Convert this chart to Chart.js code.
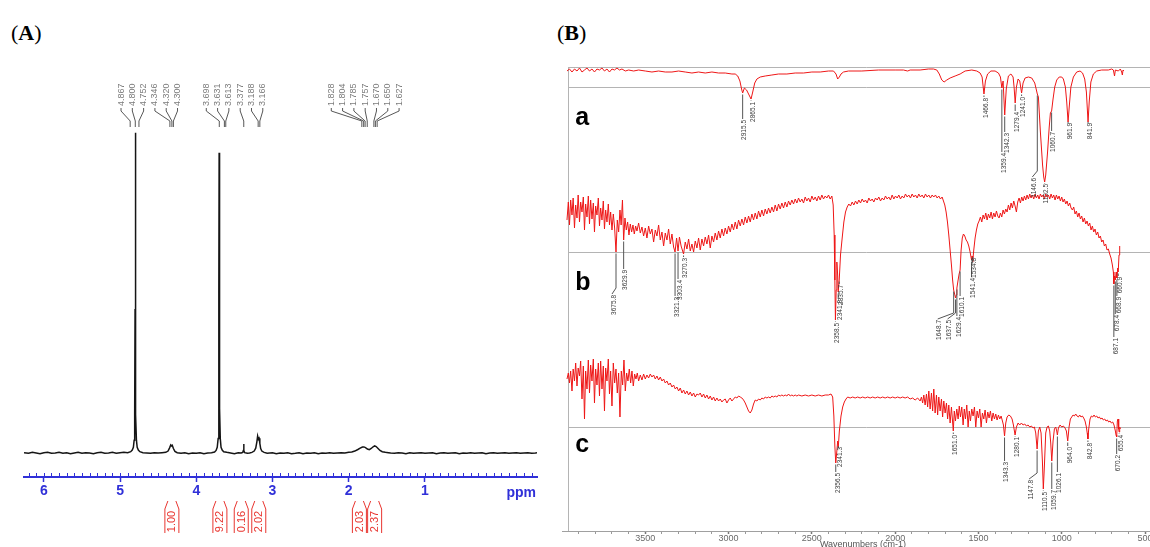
<!DOCTYPE html>
<html>
<head>
<meta charset="utf-8">
<script src="https://cdn.jsdelivr.net/npm/chart.js@4"></script>
<style>
html,body{margin:0;padding:0;background:#fff;overflow:hidden;width:1150px;height:547px;}
#wrap{position:relative;width:1150px;height:547px;overflow:hidden;}
canvas{position:absolute;}
.plabel{position:absolute;font-family:'Liberation Serif','Times New Roman',serif;font-size:22px;color:#000;line-height:25px;}
</style>
</head>
<body>
<div id="wrap">
  <div class="plabel" style="left:11px;top:20px;">(<b>A</b>)</div>
  <div class="plabel" style="left:557px;top:20px;">(<b>B</b>)</div>
  <canvas id="nmr" width="550" height="547" style="left:0;top:0;"></canvas>
  <canvas id="ir" width="608" height="515" style="left:556px;top:40px;"></canvas>
</div>
<script>
// ---------------- (A) 1H NMR data ----------------
const nmrTickValues = [6, 5, 4, 3, 2, 1];
const nmrSpectrum = [
[6.26,0.1],[6.2,-0.1],[6.15,0.2],[6.1,0],[6.05,-0.2],[6.0,0.1],[5.95,0.2],[5.9,-0.1],[5.85,0],[5.8,0.2],[5.75,-0.1],[5.7,0.1],[5.65,-0.2],[5.6,0],[5.55,0.2],[5.5,-0.1],[5.45,0.1],[5.4,0],[5.35,-0.2],[5.3,0.1],[5.25,0.2],[5.2,-0.1],[5.15,0],[5.1,0.2],[5.05,-0.1],[5.0,0.1],[4.95,0.2],[4.9,0.1],
[4.86,0.4],[4.84,0.9],[4.825,1.8],[4.815,4],[4.808,12],[4.803,45],[4.800,100],[4.797,45],[4.792,12],[4.785,4],[4.775,1.8],[4.76,0.9],[4.74,0.4],[4.7,0.1],[4.65,0],[4.6,-0.1],[4.55,0.1],[4.5,0],[4.45,0.1],
[4.4,0.2],[4.37,0.6],[4.35,1.6],[4.335,2.5],[4.325,2.2],[4.315,2.4],[4.30,1.4],[4.28,0.5],[4.25,0.1],[4.2,-0.1],[4.15,0.1],[4.1,-0.2],[4.05,0],[4.0,-0.1],[3.95,0.1],[3.9,-0.2],[3.85,0],[3.8,0.1],
[3.76,0.3],[3.74,0.8],[3.725,1.8],[3.713,4.5],[3.706,14],[3.702,50],[3.700,93.8],[3.697,45],[3.692,14],[3.685,4.5],[3.675,1.8],[3.66,0.9],[3.64,0.4],[3.6,0.2],[3.55,0],[3.5,-0.2],[3.45,0.1],
[3.41,0],[3.39,0.2],[3.382,0.8],[3.378,2.8],[3.374,0.8],[3.365,0.1],[3.33,-0.1],[3.3,0],
[3.27,0.2],[3.24,0.6],[3.22,1.5],[3.205,3.5],[3.195,5.3],[3.185,4.3],[3.176,4.6],[3.166,3],[3.155,1.4],[3.14,0.6],[3.11,0.2],[3.07,-0.1],
[3.0,0.1],[2.95,-0.2],[2.9,0],[2.85,-0.1],[2.8,0.1],[2.75,-0.2],[2.7,-0.1],[2.65,0.1],[2.6,-0.2],[2.55,0],[2.5,-0.1],[2.45,0.1],[2.4,-0.2],[2.35,0],[2.3,-0.1],[2.25,0.1],[2.2,-0.1],[2.15,0],[2.1,0.1],[2.05,0],
[2.0,0.2],[1.96,0.3],[1.92,0.6],[1.88,1.1],[1.85,1.5],[1.82,1.85],[1.80,1.9],[1.78,1.7],[1.755,1.25],[1.73,1.05],[1.705,1.4],[1.68,1.95],[1.66,2.2],[1.64,2.0],[1.615,1.4],[1.59,0.8],[1.56,0.4],[1.52,0.2],[1.48,0.1],
[1.45,0],[1.4,-0.1],[1.35,0.1],[1.3,0],[1.25,-0.2],[1.2,0.1],[1.15,-0.1],[1.1,0],[1.05,0.1],[1.0,-0.1],[0.95,0],[0.9,0.1],[0.85,-0.2],[0.8,0],[0.75,0.1],[0.7,-0.1],[0.65,0],[0.6,0.1],[0.55,-0.2],[0.5,0],[0.45,-0.1],[0.4,0.1],[0.35,-0.1],[0.3,0],[0.25,0.1],[0.2,-0.2],[0.15,0],[0.1,0.1],[0.05,-0.1],[0.0,0],[-0.05,0.1],[-0.1,-0.1],[-0.15,0],[-0.2,0.1],[-0.25,-0.1],[-0.3,0],[-0.35,0.1],[-0.4,-0.1],[-0.45,0],[-0.47,0.1]
];
const nmrPeakGroups = [
  [4.867, 4.800, 4.752, 4.346, 4.320, 4.300],
  [3.698, 3.631, 3.613, 3.377, 3.188, 3.166],
  [1.828, 1.804, 1.785, 1.757, 1.670, 1.650, 1.627]
];
const nmrIntegrals = [[4.32,'1.00'],[3.69,'9.22'],[3.41,'0.16'],[3.18,'2.02'],[1.86,'2.03'],[1.66,'2.37']];

// ---------------- (B) FT-IR data ----------------
const irTickValues = [500, 1000, 1500, 2000, 2500, 3000, 3500];
const irTraceA = [
[3970,116],[3955,118],[3940,115],[3925,118],[3910,116],[3895,119],[3880,115],[3865,117],[3850,119],[3835,116],[3820,118],[3805,115],[3790,118],[3775,117],[3760,119],[3745,116],[3730,118],[3715,115],[3700,118],[3685,117],[3670,119],[3655,117],[3640,118],[3620,116],[3600,117],[3570,116],[3540,117],[3500,116],[3460,115],[3420,116],[3380,115],[3340,115],[3300,116],[3260,115],[3220,114],[3180,115],[3140,114],[3100,115],[3060,114],[3020,114],[2980,113],[2960,113],[2945,111],[2932,106],[2922,98],[2915.5,94],[2905,99],[2892,97],[2880,93],[2865.1,88],[2855,95],[2843,104],[2830,108],[2810,110],[2780,111],[2740,112],[2700,113],[2650,113],[2600,114],[2550,114],[2500,115],[2450,115],[2400,116],[2370,116],[2355,113],[2345,108],[2335,110],[2325,113],[2310,115],[2280,116],[2200,116],[2100,117],[2000,117],[1950,117],[1925,116],[1910,117],[1850,117],[1800,118],[1770,118],[1750,117],[1735,113],[1720,107],[1706,105],[1690,107],[1670,109],[1640,111],[1610,113],[1580,116],[1540,117],[1510,116],[1490,114],[1478,110],[1466.8,93],[1458,106],[1445,113],[1425,116],[1400,116],[1380,114],[1368,110],[1359.4,99],[1352,106],[1342.3,72],[1333,98],[1320,111],[1305,113],[1292,110],[1286,100],[1279.4,84],[1272,100],[1262,108],[1252,106],[1241.0,94],[1232,104],[1220,109],[1200,110],[1180,109],[1162,104],[1152,97],[1146.6,93],[1140,90],[1128,55],[1115,22],[1108,10],[1102.5,5],[1096,12],[1085,35],[1075,60],[1068,74],[1060.7,76],[1052,88],[1042,100],[1030,107],[1015,110],[1000,110],[990,108],[978,100],[970,85],[961.9,65],[955,80],[945,100],[930,110],[910,115],[890,116],[875,114],[862,108],[852,95],[841.9,65],[835,85],[825,105],[810,113],[790,116],[760,117],[720,117],[700,118],[690,117],[683,111],[678,117],[660,116],[648,118],[640,115],[636,112],[632,117],[626,116]
];
const irTraceB = [
[3970,130],[3962,148],[3955,125],[3948,150],[3940,135],[3933,152],[3925,122],[3918,145],[3910,132],[3903,155],[3895,128],[3888,148],[3880,138],[3872,153],[3865,120],[3858,146],[3850,133],[3842,154],[3835,126],[3828,150],[3820,131],[3812,147],[3805,118],[3798,144],[3790,135],[3782,152],[3775,124],[3768,142],[3760,130],[3752,149],[3745,121],[3738,140],[3730,128],[3722,146],[3715,125],[3708,138],[3700,120],[3692,136],[3684,122],[3675.8,98],[3668,130],[3660,118],[3652,140],[3645,125],[3637,150],[3629.9,110],[3622,132],[3614,120],[3606,128],[3598,115],[3590,126],[3582,118],[3574,125],[3566,116],[3558,124],[3550,119],[3540,127],[3530,117],[3520,123],[3510,114],[3500,122],[3490,112],[3480,124],[3470,116],[3460,121],[3450,108],[3440,120],[3430,114],[3420,125],[3410,110],[3400,118],[3390,104],[3380,117],[3370,110],[3360,121],[3350,106],[3340,116],[3330,103],[3321.3,98],[3312,112],[3303.4,99],[3295,113],[3285,104],[3270.3,96],[3260,108],[3250,101],[3240,111],[3230,99],[3220,106],[3210,98],[3200,109],[3190,102],[3180,112],[3170,100],[3160,111],[3150,104],[3140,113],[3130,106],[3120,115],[3110,102],[3100,114],[3090,108],[3080,117],[3070,110],[3060,119],[3050,112],[3040,121],[3030,114],[3020,122],[3010,116],[3000,124],[2990,118],[2980,126],[2970,120],[2960,128],[2950,121],[2940,130],[2930,124],[2920,131],[2910,125],[2900,133],[2890,127],[2880,134],[2870,128],[2860,136],[2850,130],[2840,137],[2830,131],[2820,139],[2810,133],[2800,140],[2790,134],[2780,141],[2770,136],[2760,142],[2750,137],[2740,143],[2730,138],[2720,145],[2710,139],[2700,146],[2690,141],[2680,147],[2670,142],[2660,148],[2650,143],[2640,149],[2630,145],[2620,150],[2610,146],[2600,151],[2590,147],[2580,152],[2570,148],[2560,151],[2550,147],[2540,153],[2530,149],[2520,152],[2510,148],[2500,154],[2490,150],[2480,153],[2470,149],[2460,154],[2450,150],[2440,155],[2430,151],[2420,154],[2410,152],[2400,155],[2390,151],[2380,154],[2372,145],[2366,115],[2362,70],[2358.5,30],[2354,60],[2350,88],[2345,75],[2341.8,58],[2335.7,70],[2328,95],[2318,112],[2308,128],[2298,138],[2288,143],[2278,146],[2268,144],[2258,148],[2248,145],[2238,149],[2228,146],[2218,150],[2208,147],[2198,151],[2188,148],[2178,150],[2168,147],[2158,152],[2148,149],[2138,151],[2128,148],[2118,152],[2108,150],[2098,153],[2088,149],[2078,152],[2068,150],[2058,154],[2048,151],[2038,153],[2028,150],[2018,155],[2008,151],[1998,154],[1988,152],[1978,155],[1968,151],[1958,154],[1948,152],[1938,156],[1928,153],[1918,155],[1908,152],[1898,156],[1888,153],[1878,155],[1868,152],[1858,156],[1848,153],[1838,155],[1828,152],[1818,156],[1808,153],[1798,155],[1788,152],[1778,155],[1768,153],[1758,155],[1748,152],[1738,154],[1728,151],[1718,153],[1710,149],[1702,145],[1694,138],[1686,128],[1678,115],[1670,100],[1662,85],[1655,70],[1648.7,60],[1643,56],[1637.5,52],[1633,55],[1629.4,62],[1622,70],[1616,76],[1610.1,80],[1604,100],[1597,112],[1590,116],[1582,114],[1574,110],[1566,108],[1558,104],[1550,98],[1541.4,90],[1538,94],[1534.8,88],[1528,100],[1520,112],[1512,120],[1504,126],[1496,129],[1488,133],[1480,128],[1472,135],[1464,131],[1456,137],[1448,130],[1440,136],[1432,132],[1424,138],[1416,131],[1408,137],[1400,133],[1392,139],[1384,134],[1376,132],[1368,137],[1360,133],[1352,140],[1344,136],[1336,141],[1328,138],[1320,145],[1312,140],[1304,147],[1296,142],[1288,149],[1280,144],[1272,138],[1264,148],[1256,152],[1248,147],[1240,153],[1232,149],[1224,154],[1216,150],[1208,155],[1200,151],[1192,156],[1184,152],[1176,155],[1168,151],[1160,156],[1152,152],[1144,155],[1136,151],[1128,156],[1120,153],[1112,155],[1104,151],[1096,156],[1088,153],[1080,155],[1072,151],[1064,156],[1056,152],[1048,155],[1040,150],[1032,155],[1024,151],[1016,154],[1008,149],[1000,153],[992,148],[984,151],[976,146],[968,149],[960,144],[952,147],[944,142],[936,140],[928,143],[920,136],[912,139],[904,133],[896,137],[888,131],[880,134],[872,128],[864,132],[856,126],[848,129],[840,124],[832,127],[824,120],[816,124],[808,118],[800,121],[792,115],[784,118],[776,112],[768,114],[760,108],[752,110],[744,104],[736,106],[728,100],[720,101],[712,96],[704,92],[696,85],[690,78],[687.1,66],[683,74],[678.4,70],[673,78],[668.9,72],[664,82],[660.9,78],[656,95],[652,104]
];
const irTraceC = [
[3970,152],[3962,158],[3955,148],[3948,160],[3940,140],[3933,162],[3925,150],[3918,168],[3910,145],[3903,163],[3895,155],[3888,170],[3880,132],[3872,165],[3865,112],[3858,160],[3850,142],[3842,171],[3835,138],[3828,166],[3820,150],[3812,172],[3805,128],[3798,162],[3790,146],[3782,168],[3775,135],[3768,170],[3760,142],[3752,165],[3745,120],[3738,163],[3730,150],[3722,172],[3715,137],[3708,160],[3700,125],[3692,168],[3684,148],[3676,162],[3668,138],[3660,158],[3652,114],[3644,160],[3636,146],[3628,171],[3620,140],[3612,158],[3604,150],[3596,162],[3588,148],[3580,160],[3572,145],[3564,157],[3556,152],[3548,158],[3540,150],[3530,156],[3520,151],[3510,157],[3500,152],[3490,156],[3480,153],[3470,157],[3460,154],[3450,156],[3440,152],[3430,155],[3420,151],[3410,154],[3400,150],[3390,152],[3380,148],[3370,150],[3360,146],[3350,148],[3340,144],[3330,146],[3320,142],[3310,144],[3300,140],[3290,143],[3280,138],[3270,141],[3260,137],[3250,140],[3240,136],[3230,139],[3220,135],[3210,138],[3200,134],[3190,137],[3180,136],[3170,138],[3160,134],[3150,137],[3140,133],[3130,136],[3120,132],[3110,135],[3100,131],[3090,134],[3080,130],[3070,133],[3060,130],[3050,132],[3040,129],[3030,131],[3020,132],[3010,128],[3000,131],[2990,133],[2980,130],[2970,132],[2960,134],[2950,133],[2940,135],[2930,134],[2920,133],[2910,131],[2900,128],[2890,124],[2880,120],[2870,118],[2860,121],[2850,127],[2840,131],[2830,130],[2820,132],[2810,131],[2800,133],[2790,132],[2780,134],[2770,133],[2760,134],[2750,133],[2740,135],[2730,134],[2720,135],[2710,134],[2700,136],[2690,135],[2680,136],[2670,135],[2660,136],[2650,135],[2640,137],[2630,135],[2620,136],[2610,135],[2600,136],[2590,135],[2580,136],[2560,135],[2540,136],[2520,135],[2500,136],[2480,135],[2460,136],[2440,135],[2420,136],[2400,136],[2385,137],[2375,134],[2368,115],[2362,85],[2356.5,68],[2350,80],[2345,90],[2341.3,84],[2335,100],[2325,115],[2315,124],[2305,129],[2295,132],[2285,134],[2270,133],[2255,134],[2240,133],[2225,134],[2210,133],[2195,134],[2180,133],[2165,134],[2150,133],[2135,134],[2120,133],[2105,134],[2090,133],[2075,134],[2060,133],[2045,134],[2030,133],[2015,134],[2000,133],[1985,134],[1970,133],[1955,134],[1940,133],[1925,134],[1910,132],[1895,133],[1880,131],[1865,133],[1850,130],[1842,134],[1835,128],[1828,136],[1820,126],[1812,137],[1805,124],[1798,140],[1790,122],[1782,138],[1775,120],[1768,142],[1760,118],[1752,136],[1745,116],[1738,134],[1730,120],[1722,132],[1715,114],[1708,130],[1700,118],[1692,128],[1685,112],[1678,126],[1670,108],[1662,124],[1651.0,100],[1645,120],[1638,110],[1630,122],[1622,112],[1615,125],[1608,114],[1600,124],[1592,106],[1585,122],[1578,112],[1570,126],[1562,104],[1555,120],[1548,110],[1540,122],[1532,115],[1524,124],[1516,104],[1508,120],[1500,113],[1492,122],[1484,104],[1476,118],[1468,112],[1460,121],[1452,108],[1444,119],[1436,113],[1428,120],[1420,110],[1412,118],[1404,112],[1396,117],[1388,111],[1380,116],[1372,112],[1364,115],[1356,110],[1350,106],[1343.3,95],[1336,108],[1328,114],[1318,116],[1308,115],[1298,112],[1290,106],[1280.1,96],[1272,104],[1262,108],[1252,106],[1242,108],[1232,106],[1222,107],[1212,105],[1202,106],[1192,104],[1182,105],[1172,103],[1164,104],[1156,98],[1147.8,82],[1140,100],[1132,104],[1124,98],[1116,70],[1110.5,42],[1104,65],[1096,98],[1088,104],[1080,105],[1072,100],[1066,88],[1059.7,70],[1052,90],[1044,102],[1036,104],[1030,100],[1026.1,96],[1020,103],[1010,106],[1000,104],[990,105],[980,103],[972,100],[964.0,90],[956,104],[948,112],[940,114],[932,116],[924,115],[916,117],[908,115],[900,114],[892,116],[884,114],[876,115],[868,113],[860,110],[852,104],[847,98],[842.8,92],[838,102],[830,112],[822,115],[814,114],[806,116],[798,114],[790,115],[782,113],[774,114],[766,112],[758,113],[750,111],[742,112],[734,110],[726,111],[718,109],[710,110],[702,108],[694,109],[686,106],[678,100],[674,96],[670.2,94],[666,110],[662,112],[658,102],[655.4,99],[652,104],[648,102]
];
// peak annotations: [wavenumber, value where label text begins, leader shift]
const irPeaksA = [[2915.5,67],[2865.1,85],[1466.8,89],[1359.4,34],[1342.3,54],[1279.4,75],[1241.0,90],[1146.6,9,-5],[1102.5,3],[1060.7,55],[961.9,64],[841.9,64]];
const irPeaksB = [[3675.8,55,-4],[3629.9,80],[3321.3,53],[3303.4,70],[3270.3,92],[2358.5,27],[2341.8,50],[2335.7,65],[1648.7,30,-16],[1637.5,30,-8],[1629.4,33,0],[1610.1,53],[1541.4,72],[1534.8,92],[687.1,12],[678.4,35],[668.9,53],[660.9,73]];
const irPeaksC = [[2356.5,58],[2341.3,84],[1651.0,96],[1343.3,69],[1280.1,94],[1147.8,51,-8],[1110.5,39],[1059.7,41],[1026.1,58],[964.0,84],[842.8,88],[670.2,76],[655.4,96]];
const irTraceNames = ['a', 'b', 'c'];
const irReferenceLevels = [100, 98, 104];

const toXY = arr => arr.map(p => ({x: p[0], y: p[1]}));
const BLUE = '#3030d8';
const RED_INT = '#e8352f';

// ---------------- NMR chart ----------------
const nmrPlugin = {
  id: 'nmrDecor',
  afterDraw(chart) {
    const ctx = chart.ctx, xs = chart.scales.x, area = chart.chartArea;
    ctx.save();
    ctx.strokeStyle = BLUE; ctx.lineWidth = 1;
    for (let i = -4; i <= 62; i++) {
      const v = i / 10;
      const px = Math.round(xs.getPixelForValue(v)) + 0.5;
      ctx.beginPath(); ctx.moveTo(px, area.bottom - 4); ctx.lineTo(px, area.bottom); ctx.stroke();
    }
    ctx.fillStyle = BLUE; ctx.font = "bold 14px 'Liberation Sans', Arial, sans-serif";
    ctx.textAlign = 'right'; ctx.textBaseline = 'middle';
    ctx.fillText('ppm', area.right - 1, 493);
    ctx.font = "9px 'Liberation Sans', Arial, sans-serif";
    nmrPeakGroups.forEach(g => {
      const px = g.map(v => xs.getPixelForValue(v));
      const c = px.reduce((a, b) => a + b, 0) / px.length - 4;
      g.forEach((v, i) => {
        const lx = c + (i - (g.length - 1) / 2) * 11.3;
        ctx.save();
        ctx.translate(lx, 106); ctx.rotate(-Math.PI / 2);
        ctx.textAlign = 'left'; ctx.textBaseline = 'middle'; ctx.fillStyle = '#7c7c7c';
        ctx.fillText(v.toFixed(3), 0, 0);
        ctx.restore();
        ctx.strokeStyle = '#444'; ctx.lineWidth = 0.9;
        ctx.beginPath(); ctx.moveTo(lx, 108); ctx.lineTo(lx, 111); ctx.lineTo(px[i], 121); ctx.lineTo(px[i], 127); ctx.stroke();
      });
    });
    ctx.strokeStyle = RED_INT; ctx.fillStyle = RED_INT; ctx.lineWidth = 1;
    ctx.font = "11px 'Liberation Sans', Arial, sans-serif";
    nmrIntegrals.forEach(([v, t]) => {
      const cx = xs.getPixelForValue(v);
      ctx.beginPath();
      ctx.moveTo(cx - 4, 501); ctx.lineTo(cx - 7, 509); ctx.lineTo(cx - 7, 533);
      ctx.moveTo(cx + 4, 501); ctx.lineTo(cx + 7, 509); ctx.lineTo(cx + 7, 533);
      ctx.stroke();
      ctx.save();
      ctx.translate(cx + 0.5, 521.5); ctx.rotate(-Math.PI / 2);
      ctx.textAlign = 'center'; ctx.textBaseline = 'middle';
      ctx.fillText(t, 0, 0);
      ctx.restore();
    });
    ctx.restore();
  }
};

new Chart(document.getElementById('nmr'), {
  type: 'line',
  data: { datasets: [{ data: toXY(nmrSpectrum), borderColor: '#151515', borderWidth: 1.5, pointRadius: 0, tension: 0 }] },
  options: {
    responsive: false, animation: false, events: [],
    layout: { padding: { left: 24, right: 13, top: 0, bottom: 0 } },
    plugins: { legend: { display: false }, tooltip: { enabled: false } },
    scales: {
      x: {
        type: 'linear', reverse: true, min: -0.47, max: 6.26,
        afterBuildTicks: s => { s.ticks = nmrTickValues.map(v => ({ value: v })); },
        afterFit: s => { s.height = 70; s.paddingLeft = 0; s.paddingRight = 0; },
        ticks: { color: BLUE, font: { family: "'Liberation Sans', Arial, sans-serif", size: 14, weight: 'bold' }, padding: 1, autoSkip: false, maxRotation: 0 },
        grid: { drawOnChartArea: false, color: BLUE, tickLength: 5, tickWidth: 1.5 },
        border: { color: BLUE, width: 2 }
      },
      y: { display: false, min: -7.5, max: 141.5 }
    }
  },
  plugins: [nmrPlugin]
});

// ---------------- IR chart ----------------
const irTraces = [irTraceA, irTraceB, irTraceC];
const irPeaks = [irPeaksA, irPeaksB, irPeaksC];
const irAxes = ['ya', 'yb', 'yc'];

const irPlugin = {
  id: 'irDecor',
  beforeDatasetsDraw(chart) {
    const ctx = chart.ctx, xs = chart.scales.x, area = chart.chartArea;
    const left = Math.round(xs.getPixelForValue(3965)) + 0.5;
    ctx.save();
    ctx.strokeStyle = '#b4b4b4'; ctx.lineWidth = 1;
    ctx.beginPath();
    ctx.moveTo(left, area.top + 0.5); ctx.lineTo(area.right, area.top + 0.5);
    ctx.moveTo(left, area.top); ctx.lineTo(left, area.bottom);
    irAxes.forEach((id, k) => {
      const y = Math.round(chart.scales[id].getPixelForValue(irReferenceLevels[k])) + 0.5;
      ctx.moveTo(left, y); ctx.lineTo(area.right, y);
    });
    ctx.stroke();
    ctx.restore();
  },
  afterDatasetsDraw(chart) {
    const ctx = chart.ctx, xs = chart.scales.x;
    ctx.save();
    irAxes.forEach((id, k) => {
      const ys = chart.scales[id];
      const trace = irTraces[k];
      ctx.fillStyle = '#000'; ctx.font = "bold 25px 'Liberation Sans', Arial, sans-serif";
      ctx.textAlign = 'left'; ctx.textBaseline = 'alphabetic';
      ctx.fillText(irTraceNames[k], xs.getPixelForValue(3920), ys.getPixelForValue([62, 60, 79][k]));
      irPeaks[k].forEach(([w, top, dx = 0]) => {
        const pt = trace.reduce((b, p) => Math.abs(p[0] - w) < Math.abs(b[0] - w) ? p : b);
        const x = xs.getPixelForValue(w);
        const y0 = ys.getPixelForValue(pt[1]) + 1.5;
        const y1 = ys.getPixelForValue(top);
        ctx.strokeStyle = '#555'; ctx.lineWidth = 1;
        ctx.beginPath(); ctx.moveTo(x, y0);
        if (dx) { ctx.lineTo(x, y1 - 7); ctx.lineTo(x + dx, y1 - 1); } else { ctx.lineTo(x, y1 - 1); }
        ctx.stroke();
        ctx.save();
        ctx.translate(x + dx + 2, y1); ctx.rotate(-Math.PI / 2);
        ctx.textAlign = 'right'; ctx.textBaseline = 'middle'; ctx.fillStyle = '#3a3a3a';
        ctx.font = "6.5px 'Liberation Sans Narrow', 'Liberation Sans', Arial, sans-serif";
        ctx.fillText(w.toFixed(1), 0, 0);
        ctx.restore();
      });
    });
    ctx.restore();
  }
};

new Chart(document.getElementById('ir'), {
  type: 'line',
  data: {
    datasets: irTraces.map((t, k) => ({
      data: toXY(t), yAxisID: irAxes[k], borderColor: 'rgb(238,22,22)', borderWidth: 1, pointRadius: 0, tension: 0
    }))
  },
  options: {
    responsive: false, animation: false, events: [],
    layout: { padding: { left: 6, right: 0, top: 27, bottom: 0 } },
    plugins: { legend: { display: false }, tooltip: { enabled: false } },
    scales: {
      x: {
        type: 'linear', reverse: true, min: 386, max: 4000,
        afterBuildTicks: s => { const t = []; for (let v = 500; v <= 3900; v += 100) t.push({ value: v }); s.ticks = t; },
        afterFit: s => { s.height = 24; s.paddingLeft = 0; s.paddingRight = 0; },
        ticks: {
          autoSkip: false, maxRotation: 0, padding: 0, color: '#6a6a6a',
          font: { family: "'Liberation Sans', Arial, sans-serif", size: 9, lineHeight: 1 },
          callback: v => irTickValues.includes(v) ? String(v) : ''
        },
        grid: { drawOnChartArea: false, tickLength: 3, tickColor: c => (c.tick && irTickValues.includes(c.tick.value)) ? '#777' : '#999', tickWidth: c => (c.tick && irTickValues.includes(c.tick.value)) ? 1.5 : 1 },
        border: { color: '#a0a0a0', width: 1 },
        title: { display: true, text: 'Wavenumbers (cm-1)', color: '#555', font: { family: "'Liberation Sans', Arial, sans-serif", size: 9, lineHeight: 1 }, padding: { top: 0, bottom: 5.5 } }
      },
      ya: { display: false, position: 'left', stack: 'ir', stackWeight: 120, weight: 3, min: 0, max: 120 },
      yb: { display: false, position: 'left', stack: 'ir', stackWeight: 163, weight: 2, min: 0, max: 163 },
      yc: { display: false, position: 'left', stack: 'ir', stackWeight: 181, weight: 1, min: 0, max: 181 }
    }
  },
  plugins: [irPlugin]
});
</script>
</body>
</html>
